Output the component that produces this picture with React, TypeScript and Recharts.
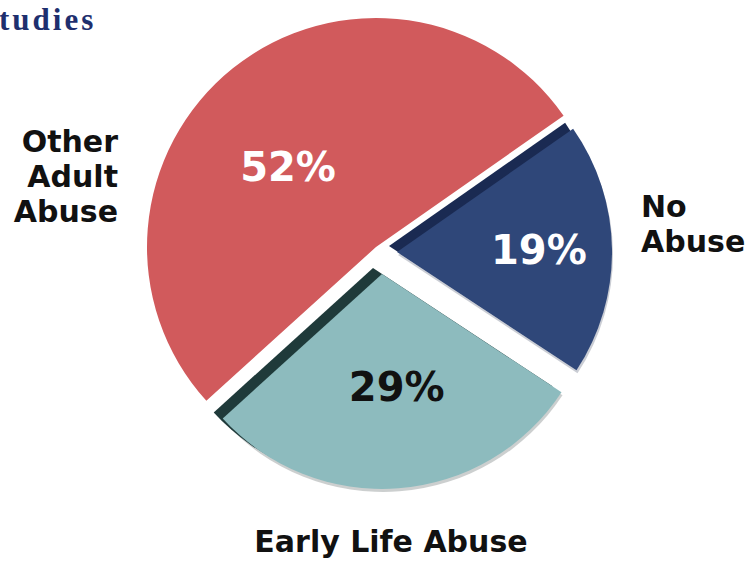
import React from 'react';
import { PieChart, Pie, Cell } from 'recharts';

const categories = ['Other Adult Abuse', 'Early Life Abuse', 'No Abuse'];
const shares = [52, 29, 19];

const data = categories.map((name, i) => ({ name, value: shares[i] }));

const FACE = ['#d15a5c', '#8dbbbe', '#2f4779'];
const SIDE = ['#a84244', '#1f3a3a', '#1a2a52'];
const LABEL_COLOR = ['#ffffff', '#111111', '#ffffff'];

const START = 35;
const END = START + 360;
const RAD = Math.PI / 180;

type Layer = {
  key: string;
  idx: number;
  cx: number;
  cy: number;
  r: number;
  color: string;
  label?: { frac: number; nudge: number };
  opacity?: number;
};

const layers: Layer[] = [
  { key: 'red', idx: 0, cx: 376, cy: 247, r: 229, color: FACE[0], label: { frac: 0.52, nudge: 9 } },
  { key: 'tealShadow', idx: 1, cx: 383, cy: 277, r: 215, color: '#9aa0a0', opacity: 0.5 },
  { key: 'tealSide', idx: 1, cx: 373, cy: 268, r: 215, color: SIDE[1] },
  { key: 'teal', idx: 1, cx: 382, cy: 274, r: 215, color: FACE[1], label: { frac: 0.53, nudge: 3 } },
  { key: 'blueShadow', idx: 2, cx: 398, cy: 255, r: 215, color: '#8a90a0', opacity: 0.45 },
  { key: 'blueSide', idx: 2, cx: 389, cy: 246, r: 215, color: SIDE[2] },
  { key: 'blue', idx: 2, cx: 397, cy: 252, r: 215, color: FACE[2], label: { frac: 0.66, nudge: 0 } },
];

const makeLabel = (layer: Layer) => (props: any) => {
  if (!layer.label || props.index !== layer.idx) return null;
  const ang = (props.midAngle + layer.label.nudge) * RAD;
  const rr = props.outerRadius * layer.label.frac;
  const x = props.cx + rr * Math.cos(ang);
  const y = props.cy - rr * Math.sin(ang);
  return (
    <text
      x={x}
      y={y}
      textAnchor="middle"
      dominantBaseline="central"
      fill={LABEL_COLOR[layer.idx]}
      style={{ fontFamily: 'DejaVu Sans, Verdana, sans-serif', fontWeight: 'bold', fontSize: 40 }}
    >
      {`${props.value}%`}
    </text>
  );
};

const textStyle: React.CSSProperties = {
  fontFamily: 'DejaVu Sans, Verdana, sans-serif',
  fontWeight: 'bold',
  fontSize: 30,
  fill: '#111',
};

export default function App() {
  return (
    <div
      style={{
        position: 'absolute',
        left: 0,
        top: 0,
        width: 747,
        height: 561,
        background: '#ffffff',
        overflow: 'hidden',
      }}
    >
      <div style={{ position: 'absolute', left: 0, top: 0 }}>
        <PieChart width={747} height={561} margin={{ top: 0, right: 0, bottom: 0, left: 0 }}>
          {layers.map((layer) => (
            <Pie
              key={layer.key}
              data={data}
              dataKey="value"
              nameKey="name"
              cx={layer.cx}
              cy={layer.cy}
              innerRadius={0}
              outerRadius={layer.r}
              startAngle={START}
              endAngle={END}
              stroke="none"
              isAnimationActive={false}
              labelLine={false}
              label={layer.label ? makeLabel(layer) : false}
            >
              {data.map((d, i) => (
                <Cell
                  key={d.name}
                  fill={i === layer.idx ? layer.color : 'transparent'}
                  fillOpacity={i === layer.idx ? layer.opacity ?? 1 : 0}
                />
              ))}
            </Pie>
          ))}
        </PieChart>
      </div>
      <svg
        width={747}
        height={561}
        style={{ position: 'absolute', left: 0, top: 0, pointerEvents: 'none' }}
      >
        <text
          x={-1}
          y={30}
          style={{
            fontFamily: 'Liberation Serif, serif',
            fontWeight: 'bold',
            fontSize: 31,
            letterSpacing: 3,
            fill: '#1e2f6e',
          }}
        >
          tudies
        </text>
        <text x={118} y={152} textAnchor="end" style={textStyle}>Other</text>
        <text x={118} y={187} textAnchor="end" style={textStyle}>Adult</text>
        <text x={118} y={222} textAnchor="end" style={textStyle}>Abuse</text>
        <text x={641} y={217} textAnchor="start" style={textStyle}>No</text>
        <text x={641} y={252} textAnchor="start" style={textStyle}>Abuse</text>
        <text x={391} y={552} textAnchor="middle" style={textStyle}>{categories[1]}</text>
      </svg>
    </div>
  );
}
